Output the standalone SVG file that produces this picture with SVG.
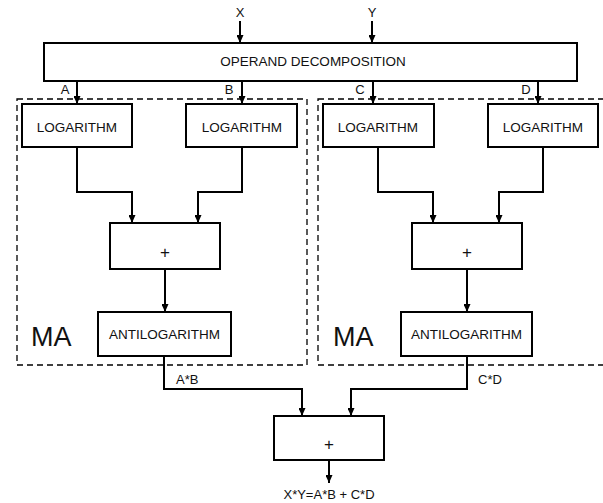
<svg xmlns="http://www.w3.org/2000/svg" width="603" height="503" viewBox="0 0 603 503">
<style>
.box{fill:#fff;stroke:#000;stroke-width:2}
.dash{fill:none;stroke:#000;stroke-width:1.3;stroke-dasharray:6 4}
.ln{fill:none;stroke:#000;stroke-width:2;marker-end:url(#ah)}
text{font-family:"Liberation Sans",Arial,sans-serif;font-size:13.5px;fill:#111;text-anchor:middle}
.lbl{font-size:13px}
.ma{font-size:27px;text-anchor:start}
.plus{font-size:17px}
</style>
<defs>
<marker id="ah" viewBox="0 0 8 7" refX="8" refY="3.5" markerWidth="8" markerHeight="7" orient="auto" markerUnits="userSpaceOnUse">
<path d="M0,0 L8,3.5 L0,7 z" fill="#000"/>
</marker>
</defs>
<g id="groups">
<rect id="ma-left" class="dash" x="17" y="99" width="290" height="266"/>
<rect id="ma-right" class="dash" x="318" y="99" width="290" height="266"/>
<text class="ma" x="31" y="346">MA</text>
<text class="ma" x="333" y="346">MA</text>
</g>
<g id="connectors">
<path class="ln" d="M240,21 V43"/>
<path class="ln" d="M372,21 V43"/>
<path class="ln" d="M77,81 V104"/>
<path class="ln" d="M242,81 V104"/>
<path class="ln" d="M373,81 V104"/>
<path class="ln" d="M538,81 V104"/>
<path class="ln" d="M77,147 V192 H132 V223"/>
<path class="ln" d="M242,147 V192 H198 V223"/>
<path class="ln" d="M378,147 V192 H433 V223"/>
<path class="ln" d="M543,147 V192 H499 V223"/>
<path class="ln" d="M165,269 V312"/>
<path class="ln" d="M467,269 V312"/>
<path class="ln" d="M164,356 V389 H302 V416"/>
<path class="ln" d="M467,356 V389 H351 V416"/>
<path class="ln" d="M329,460 V483"/>
<text class="lbl" x="240" y="17">X</text>
<text class="lbl" x="372" y="17">Y</text>
<text class="lbl" x="65" y="94">A</text>
<text class="lbl" x="229" y="94">B</text>
<text class="lbl" x="360" y="94">C</text>
<text class="lbl" x="526" y="94">D</text>
<text class="lbl" x="176" y="384" style="text-anchor:start">A*B</text>
<text class="lbl" x="478" y="384" style="text-anchor:start">C*D</text>
<text class="lbl" x="329" y="499">X*Y=A*B + C*D</text>
</g>
<g id="operand">
<rect class="box" x="44" y="43" width="533" height="38"/>
<text x="313" y="66">OPERAND DECOMPOSITION</text>
</g>
<g id="log-a">
<rect class="box" x="22" y="104" width="110" height="43"/>
<text x="77" y="132">LOGARITHM</text>
</g>
<g id="log-b">
<rect class="box" x="186" y="104" width="111" height="43"/>
<text x="242" y="132">LOGARITHM</text>
</g>
<g id="log-c">
<rect class="box" x="323" y="104" width="111" height="43"/>
<text x="378" y="132">LOGARITHM</text>
</g>
<g id="log-d">
<rect class="box" x="488" y="104" width="110" height="43"/>
<text x="543" y="132">LOGARITHM</text>
</g>
<g id="add-left">
<rect class="box" x="110" y="223" width="110" height="46"/>
<text class="plus" x="165" y="258">+</text>
</g>
<g id="add-right">
<rect class="box" x="412" y="223" width="110" height="46"/>
<text class="plus" x="467" y="258">+</text>
</g>
<g id="antilog-left">
<rect class="box" x="98" y="312" width="133" height="44"/>
<text x="164.5" y="339">ANTILOGARITHM</text>
</g>
<g id="antilog-right">
<rect class="box" x="401" y="312" width="131" height="44"/>
<text x="466.5" y="339">ANTILOGARITHM</text>
</g>
<g id="add-final">
<rect class="box" x="274" y="416" width="110" height="44"/>
<text class="plus" x="329" y="450">+</text>
</g>
</svg>
